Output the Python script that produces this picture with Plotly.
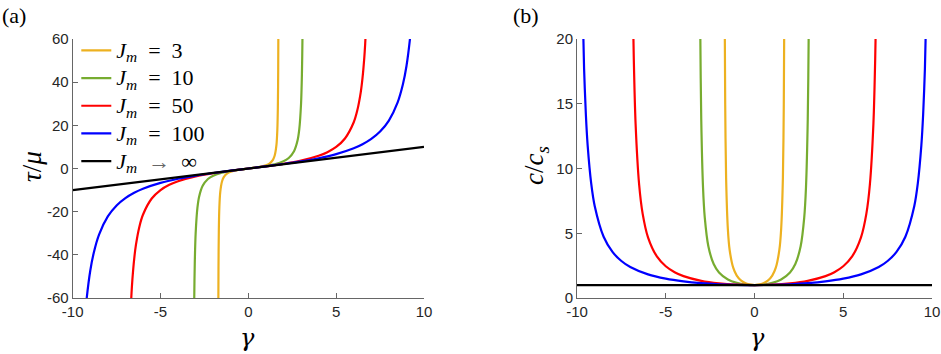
import plotly.graph_objects as go
from plotly.subplots import make_subplots

# (a) shear stress tau/mu vs gamma
g3 = [-1.71, -1.7, -1.68, -1.65, -1.6, -1.5, -1.4, -1.2, -1.0, -0.75, -0.5, -0.25, 0,
      0.25, 0.5, 0.75, 1.0, 1.2, 1.4, 1.5, 1.6, 1.65, 1.68, 1.7, 1.71]
t3 = [-67.6, -46.36, -28.38, -17.84, -10.91, -6.0, -4.038, -2.308, -1.5, -0.9231, -0.5455, -0.2553, 0,
      0.2553, 0.5455, 0.9231, 1.5, 2.308, 4.038, 6.0, 10.91, 17.84, 28.38, 46.36, 67.6]

g10 = [-3.1, -3.08, -3.05, -3.0, -2.9, -2.8, -2.6, -2.3, -2.0, -1.5, -1.0, -0.5, 0,
       0.5, 1.0, 1.5, 2.0, 2.3, 2.6, 2.8, 2.9, 3.0, 3.05, 3.08, 3.1]
t10 = [-79.5, -59.97, -43.73, -30.0, -18.24, -12.96, -8.025, -4.883, -3.333, -1.935, -1.111, -0.5128, 0,
       0.5128, 1.111, 1.935, 3.333, 4.883, 8.025, 12.96, 18.24, 30.0, 43.73, 59.97, 79.5]

g50 = [-6.7, -6.65, -6.6, -6.5, -6.4, -6.2, -6.0, -5.5, -5.0, -4.5, -4.0, -3.0, -2.0, -1.0, 0,
       1.0, 2.0, 3.0, 4.0, 4.5, 5.0, 5.5, 6.0, 6.2, 6.4, 6.5, 6.6, 6.65, 6.7]
t50 = [-65.56, -57.55, -51.24, -41.94, -35.40, -26.82, -21.43, -13.92, -10.0, -7.563, -5.882, -3.659, -2.174, -1.020, 0,
       1.020, 2.174, 3.659, 5.882, 7.563, 10.0, 13.92, 21.43, 26.82, 35.40, 41.94, 51.24, 57.55, 65.56]

g100 = [-9.3, -9.2, -9.0, -8.8, -8.5, -8.0, -7.5, -7.0, -6.5, -6.0, -5.0, -4.0, -3.0, -2.0, -1.0, 0,
        1.0, 2.0, 3.0, 4.0, 5.0, 6.0, 6.5, 7.0, 7.5, 8.0, 8.5, 8.8, 9.0, 9.2, 9.3]
t100 = [-68.84, -59.90, -47.37, -39.01, -30.63, -22.22, -17.14, -13.73, -11.26, -9.375, -6.667, -4.762, -3.297, -2.083, -1.010, 0,
        1.010, 2.083, 3.297, 4.762, 6.667, 9.375, 11.26, 13.73, 17.14, 22.22, 30.63, 39.01, 47.37, 59.90, 68.84]

ginf = [-10, 10]
tinf = [-10, 10]

# (b) wave speed c/c_s vs gamma
h3 = [-1.7, -1.68, -1.65, -1.6, -1.5, -1.4, -1.2, -1.0, -0.75, -0.5, -0.25, 0,
      0.25, 0.5, 0.75, 1.0, 1.2, 1.4, 1.5, 1.6, 1.65, 1.68, 1.7]
c3 = [38.1, 23.53, 14.93, 9.280, 5.292, 3.709, 2.340, 1.732, 1.341, 1.135, 1.032, 1.0,
      1.032, 1.135, 1.341, 1.732, 2.340, 3.709, 5.292, 9.280, 14.93, 23.53, 38.1]

h10 = [-3.08, -3.05, -3.0, -2.9, -2.8, -2.6, -2.3, -2.0, -1.5, -1.0, -0.5, 0,
       0.5, 1.0, 1.5, 2.0, 2.3, 2.6, 2.8, 2.9, 3.0, 3.05, 3.08]
c10 = [27.18, 19.92, 13.78, 8.533, 6.183, 3.995, 2.625, 1.972, 1.428, 1.165, 1.038, 1.0,
       1.038, 1.165, 1.428, 1.972, 2.625, 3.995, 6.183, 8.533, 13.78, 19.92, 27.18]

h50 = [-6.9, -6.85, -6.8, -6.7, -6.5, -6.3, -6.0, -5.5, -5.0, -4.5, -4.0, -3.0, -2.0, -1.0, 0,
       1.0, 2.0, 3.0, 4.0, 4.5, 5.0, 5.5, 6.0, 6.3, 6.5, 6.7, 6.8, 6.85, 6.9]
c50 = [29.23, 22.62, 18.45, 13.48, 8.763, 6.495, 4.684, 3.207, 2.449, 1.992, 1.690, 1.325, 1.130, 1.031, 1.0,
       1.031, 1.130, 1.325, 1.690, 1.992, 2.449, 3.207, 4.684, 6.495, 8.763, 13.48, 18.45, 22.62, 29.23]

h100 = [-9.7, -9.6, -9.5, -9.4, -9.2, -9.0, -8.5, -8.0, -7.5, -7.0, -6.0, -5.0, -4.0, -3.0, -2.0, -1.0, 0,
        1.0, 2.0, 3.0, 4.0, 5.0, 6.0, 7.0, 7.5, 8.0, 8.5, 9.0, 9.2, 9.4, 9.5, 9.6, 9.7]
c100 = [23.57, 17.68, 14.15, 11.79, 8.846, 7.081, 4.730, 3.557, 2.857, 2.394, 1.822, 1.491, 1.282, 1.147, 1.062, 1.015, 1.0,
        1.015, 1.062, 1.147, 1.282, 1.491, 1.822, 2.394, 2.857, 3.557, 4.730, 7.081, 8.846, 11.79, 14.15, 17.68, 23.57]

hinf = [-10, 10]
cinf = [1, 1]

x_ticks = [-10, -5, 0, 5, 10]
x_tick_txt = ['-10', '-5', '0', '5', '10']
ya_ticks = [-60, -40, -20, 0, 20, 40, 60]
ya_tick_txt = ['-60', '-40', '-20', '0', '20', '40', '60']
yb_ticks = [0, 5, 10, 15, 20]
yb_tick_txt = ['0', '5', '10', '15', '20']

Jm = '<i>J</i><sub><i>m</i></sub>'
suffixes = ['\u2002=\u20023', '\u2002=\u200210', '\u2002=\u200250', '\u2002=\u2002100',
            '\u2002<span style="color:#666">→</span>\u2002∞']
labels = ['<span style="font-size:22px">' + Jm + s + '</span>' for s in suffixes]
couleurs = ['#EDB120', '#77AC30', '#FF0000', '#0000FF', '#000000']

fig = make_subplots(rows=1, cols=2)

gauche = [(g3, t3), (g10, t10), (g50, t50), (g100, t100), (ginf, tinf)]
droite = [(h3, c3), (h10, c10), (h50, c50), (h100, c100), (hinf, cinf)]

for i, (x, y) in enumerate(gauche):
    fig.add_trace(go.Scatter(x=x, y=y, mode='lines', name=labels[i],
                             line=dict(color=couleurs[i], width=2.2, shape='spline', smoothing=0.8)),
                  row=1, col=1)
for i, (x, y) in enumerate(droite):
    fig.add_trace(go.Scatter(x=x, y=y, mode='lines', showlegend=False,
                             line=dict(color=couleurs[i], width=2.2, shape='spline', smoothing=0.8)),
                  row=1, col=2)

axe = dict(showline=True, linecolor='#666', linewidth=1, ticks='inside', ticklen=5,
           tickcolor='#666', showgrid=False, zeroline=False, mirror=False, automargin=False,
           tickfont=dict(family='Liberation Sans', size=15, color='#262626'))

W, H = 941, 354

fig.update_xaxes(axe, range=[-10, 10], tickvals=x_ticks, ticktext=x_tick_txt)
fig.update_xaxes(domain=[72.7 / W, 424 / W], row=1, col=1)
fig.update_xaxes(domain=[577 / W, 932 / W], row=1, col=2)
fig.update_yaxes(axe, domain=[1 - 298 / H, 1 - 39 / H])
fig.update_yaxes(range=[-60, 60], tickvals=ya_ticks, ticktext=ya_tick_txt, row=1, col=1)
fig.update_yaxes(range=[0, 20], tickvals=yb_ticks, ticktext=yb_tick_txt, row=1, col=2)

serif = 'Liberation Serif'
annots = [
    dict(x=14, y=15, text='(a)', font=dict(family=serif, size=22, color='black')),
    dict(x=526, y=15, text='(b)', font=dict(family=serif, size=22, color='black')),
    dict(x=248, y=338, text='<i>γ</i>', font=dict(family='DejaVu Serif', size=24, color='black')),
    dict(x=757, y=338, text='<i>γ</i>', font=dict(family='DejaVu Serif', size=24, color='black')),
    dict(x=32, y=166, text='<i>τ</i>/<i>μ</i>', font=dict(family=serif, size=27, color='black'), textangle=-90),
    dict(x=536, y=166, text='<i>c</i>/<i>c</i><sub><i>s</i></sub>',
         font=dict(family=serif, size=27, color='black'), textangle=-90),
]
for a in annots:
    fig.add_annotation(x=a['x'] / W, y=1 - a['y'] / H, xref='paper', yref='paper',
                       text=a['text'], showarrow=False, font=a['font'],
                       textangle=a.get('textangle', 0), xanchor='center', yanchor='middle')

fig.update_layout(
    width=W, height=H,
    margin=dict(l=0, r=0, t=0, b=0),
    paper_bgcolor='white', plot_bgcolor='white',
    legend=dict(x=76.3 / W, y=1 - 31.5 / H, xanchor='left', yanchor='top',
                bgcolor='rgba(0,0,0,0)',
                font=dict(family=serif, size=19, color='black'), itemwidth=30, tracegroupgap=0),
)

# pas de marge autour de la figure dans la page, pas de barre d'outils
fig.write_html("out.html", config={'displayModeBar': False},
               post_script="document.body.style.margin='0';")
